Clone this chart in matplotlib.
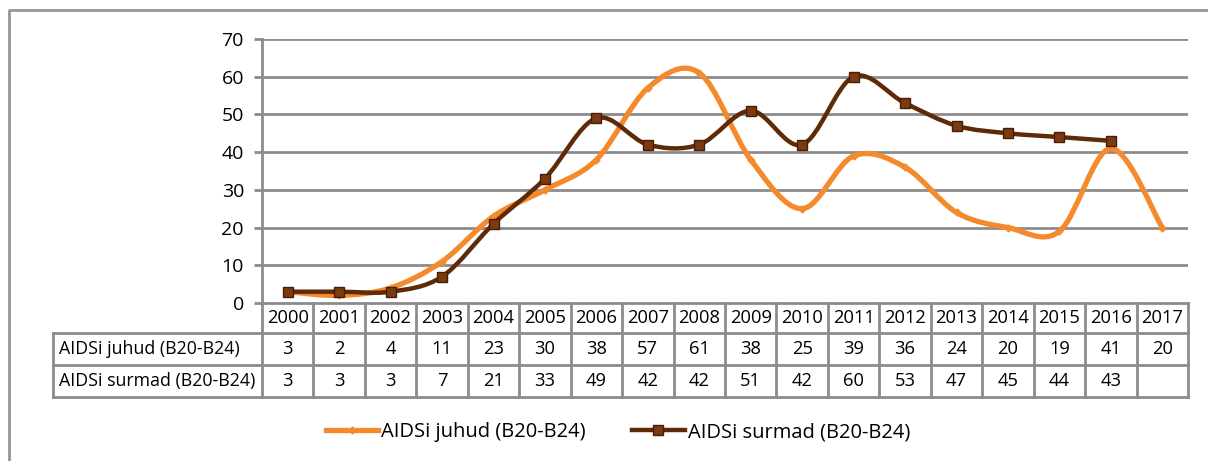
import matplotlib
matplotlib.use("Agg")
import matplotlib.pyplot as plt
import matplotlib.transforms as mtrans
from matplotlib.path import Path
from matplotlib.patches import PathPatch
from matplotlib.lines import Line2D

# ── Data ────────────────────────────────────────────────
years = [str(y) for y in range(2000, 2018)]
juhud = [3, 2, 4, 11, 23, 30, 38, 57, 61, 38, 25, 39, 36, 24, 20, 19, 41, 20]
surmad = [3, 3, 3, 7, 21, 33, 49, 42, 42, 51, 42, 60, 53, 47, 45, 44, 43]
label_juhud = "AIDSi juhud (B20-B24)"
label_surmad = "AIDSi surmad (B20-B24)"

ORANGE = "#F58A2C"
BROWN = "#5E2A07"
GRID = "#8C8C8C"

plt.rcParams['font.family'] = ['Open Sans', 'DejaVu Sans']

W, H = 1208, 461
fig = plt.figure(figsize=(W / 100, H / 100), dpi=100)

# axes placement (pixel-based)
x0, x1, y0, y1 = 262, 1188, 303, 39
ax = fig.add_axes([x0 / W, 1 - y0 / H, (x1 - x0) / W, (y0 - y1) / H])


def smooth_path(xs, ys):
    # Excel-like smoothed line: cubic Bezier segments with Catmull-Rom tangents
    n = len(xs)
    verts = [(xs[0], ys[0])]
    codes = [Path.MOVETO]
    for i in range(n - 1):
        im = max(i - 1, 0)
        ip2 = min(i + 2, n - 1)
        c1 = (xs[i] + (xs[i + 1] - xs[im]) / 6, ys[i] + (ys[i + 1] - ys[im]) / 6)
        c2 = (xs[i + 1] - (xs[ip2] - xs[i]) / 6, ys[i + 1] - (ys[ip2] - ys[i]) / 6)
        verts += [c1, c2, (xs[i + 1], ys[i + 1])]
        codes += [Path.CURVE4] * 3
    return Path(verts, codes)


# gridlines
for v in range(10, 80, 10):
    ax.axhline(v, color=GRID, lw=2, zorder=1)

xj = list(range(len(juhud)))
xs = list(range(len(surmad)))
ax.add_patch(PathPatch(smooth_path(xj, juhud), fill=False, ec=ORANGE, lw=3.8,
                       capstyle='round', joinstyle='round', zorder=3))
ax.plot(xj, juhud, ls='none', marker='D', ms=3.5, color=ORANGE, zorder=4)
ax.add_patch(PathPatch(smooth_path(xs, surmad), fill=False, ec=BROWN, lw=3.2,
                       capstyle='round', joinstyle='round', zorder=5))
ax.plot(xs, surmad, ls='none', marker='s', ms=7, mfc="#7A3A12", mec="#4A1E05",
        mew=1, zorder=6)

ax.set_xlim(-0.5, len(years) - 0.5)
ax.set_ylim(0, 70)
ax.set_yticks(range(0, 80, 10))
ax.set_xticks([])
for s in ['top', 'right', 'bottom']:
    ax.spines[s].set_visible(False)
ax.spines['left'].set_color(GRID)
ax.spines['left'].set_linewidth(2)
ax.tick_params(axis='y', length=6, width=2, color=GRID, labelsize=14, pad=7)

# ── Data table under the plot ───────────────────────────
trans = mtrans.blended_transform_factory(ax.transData, ax.transAxes)
ph = y0 - y1
row_top = [0, -30 / ph, -62 / ph]
row_bot = [-30 / ph, -62 / ph, -94 / ph]
label_left = (53 - x0) / (x1 - x0)
tkw = dict(color=GRID, lw=2, clip_on=False, solid_capstyle='projecting')

# horizontal lines
ax.plot([-0.5, len(years) - 0.5], [0, 0], transform=trans, **tkw)
ax.plot([-0.5, len(years) - 0.5], [row_bot[0]] * 2, transform=trans, **tkw)
for yb in row_bot[1:]:
    ax.plot([label_left, 1], [yb, yb], transform=ax.transAxes, **tkw)
ax.plot([label_left, 0], [row_bot[0]] * 2, transform=ax.transAxes, **tkw)
# vertical lines
for i in range(len(years) + 1):
    ax.plot([i - 0.5, i - 0.5], [0, row_bot[2]], transform=trans, **tkw)
ax.plot([label_left, label_left], [row_bot[0], row_bot[2]],
        transform=ax.transAxes, **tkw)

for i, yr in enumerate(years):
    ymid = (row_top[0] + row_bot[0]) / 2
    ax.text(i, ymid, yr, transform=trans, ha='center', va='center', fontsize=13.2)
for r, (vals, lab) in enumerate([(juhud, label_juhud), (surmad, label_surmad)], start=1):
    ymid = (row_top[r] + row_bot[r]) / 2
    ax.text(label_left + 6 / (x1 - x0), ymid, lab, transform=ax.transAxes,
            ha='left', va='center', fontsize=12.8)
    for i, v in enumerate(vals):
        ax.text(i, ymid, str(v), transform=trans, ha='center', va='center',
                fontsize=13.2)

# ── Legend ──────────────────────────────────────────────
handles = [
    Line2D([], [], color=ORANGE, lw=3.8, marker='D', ms=3.5),
    Line2D([], [], color=BROWN, lw=3.2, marker='s', ms=7, mfc="#7A3A12", mec="#4A1E05"),
]
fig.legend(handles, [label_juhud, label_surmad], loc='center',
           bbox_to_anchor=(618 / W, 1 - 432 / H), ncol=2, frameon=False,
           fontsize=14.5, handlelength=2.6, handletextpad=0.15, columnspacing=2.3)

# outer frame: only left and top edges fall inside the image
fig.add_artist(Line2D([8.5 / W, 8.5 / W, 1.01], [-0.01, 1 - 10.5 / H, 1 - 10.5 / H],
                      color="#969696", lw=2, transform=fig.transFigure))

fig.savefig("out.png", dpi=100)
